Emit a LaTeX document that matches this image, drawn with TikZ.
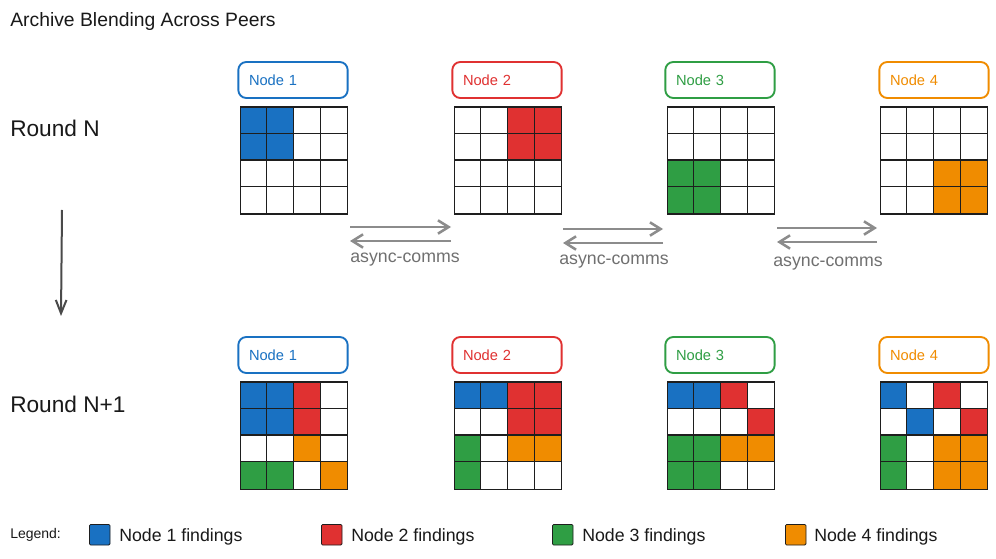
\documentclass[tikz,border=0pt]{standalone}
\usepackage{fontspec}
\setmainfont{Liberation Sans}
\usetikzlibrary{arrows.meta}
\definecolor{cb}{HTML}{1971C2}
\definecolor{cr}{HTML}{E03131}
\definecolor{cg}{HTML}{2F9E44}
\definecolor{co}{HTML}{F08C00}
\definecolor{cw}{HTML}{FFFFFF}
\definecolor{gridc}{HTML}{1E1E1E}
\definecolor{commc}{HTML}{8C8C8C}
\definecolor{downc}{HTML}{4A4A4A}
\newcommand\drawcells[4]{%
  \begin{scope}[shift={(#1,#2)}]
  \foreach \c [count=\i from 0] in {#3} {
    \pgfmathtruncatemacro\cl{mod(\i,4)}
    \pgfmathtruncatemacro\rw{int(\i/4)}
    \fill[\c] (\cl*26.75,\rw*26.75) rectangle ++(26.75,26.75);
  }
  \foreach \k in {1,2,3} {
    \draw[gridline] (\k*26.75,0) -- (\k*26.75,107);
    \draw[gridline] (0,\k*26.75) -- (107,\k*26.75);
  }
  \end{scope}
  \node[gridbox] (#4) at (#1,#2) {};}
\tikzset{
  gridline/.style={draw=gridc, line width=0.9pt},
  gridbox/.style={draw=gridc, line width=0.9pt, minimum width=80.25pt, minimum height=80.25pt, anchor=north west, inner sep=0pt},
  lbl/.style={draw=#1, text=#1, line width=1.4pt, rounded corners=6pt, minimum width=82pt, minimum height=27pt, text width=66pt, align=left, inner xsep=8pt, font=\fontsize{11}{13}\selectfont},
  comm/.style={draw=commc, line width=1.9pt, -{Straight Barb[length=8pt,width=10pt,line width=1.9pt]}},
  commlbl/.style={text=commc!80!black, font=\fontsize{13.3}{15}\selectfont, inner sep=0pt},
  roundlbl/.style={anchor=base west, inner sep=0pt, font=\fontsize{17}{20}\selectfont, text=black!90},
  legsq/.style={draw=gridc, fill=#1, line width=0.6pt, minimum width=15.5pt, minimum height=15.5pt, inner sep=0pt, rounded corners=1pt, anchor=north west},
  legtxt/.style={anchor=base west, inner sep=0pt, font=\fontsize{13.3}{15}\selectfont, text=black!90}
}
\begin{document}
\begin{tikzpicture}[x=0.75pt,y=-0.75pt]
\useasboundingbox (0,0) rectangle (996,559);
\fill[white] (0,0) rectangle (996,559);

\node[anchor=base west, inner sep=0pt, font=\fontsize{14.5}{17}\selectfont, text=black!90] (title) at (10,27) {Archive Blending Across Peers};
\node[roundlbl] (rN) at (10,137) {Round N};
\node[roundlbl] (rN1) at (10,413) {Round N+1};

% Round N labels
\node[lbl=cb] (l1) at (293,80) {Node 1};
\node[lbl=cr] (l2) at (507,80) {Node 2};
\node[lbl=cg] (l3) at (720,80) {Node 3};
\node[lbl=co] (l4) at (934,80) {Node 4};
% Round N grids
\drawcells{240}{106.5}{cb,cb,cw,cw, cb,cb,cw,cw, cw,cw,cw,cw, cw,cw,cw,cw}{g1}
\drawcells{454}{106.5}{cw,cw,cr,cr, cw,cw,cr,cr, cw,cw,cw,cw, cw,cw,cw,cw}{g2}
\drawcells{667}{106.5}{cw,cw,cw,cw, cw,cw,cw,cw, cg,cg,cw,cw, cg,cg,cw,cw}{g3}
\drawcells{880}{106.5}{cw,cw,cw,cw, cw,cw,cw,cw, cw,cw,co,co, cw,cw,co,co}{g4}

% Round N+1 labels
\node[lbl=cb] (m1) at (293,355) {Node 1};
\node[lbl=cr] (m2) at (507,355) {Node 2};
\node[lbl=cg] (m3) at (720,355) {Node 3};
\node[lbl=co] (m4) at (934,355) {Node 4};
% Round N+1 grids
\drawcells{240}{381.5}{cb,cb,cr,cw, cb,cb,cr,cw, cw,cw,co,cw, cg,cg,cw,co}{h1}
\drawcells{454}{381.5}{cb,cb,cr,cr, cw,cw,cr,cr, cg,cw,co,co, cg,cw,cw,cw}{h2}
\drawcells{667}{381.5}{cb,cb,cr,cw, cw,cw,cw,cr, cg,cg,co,co, cg,cg,cw,cw}{h3}
\drawcells{880}{381.5}{cb,cw,cr,cw, cw,cb,cw,cr, cg,cw,co,co, cg,cw,co,co}{h4}

% async comms
\coordinate (a1l) at (350,227); \coordinate (a1r) at (451,227);
\coordinate (b1l) at (350,241); \coordinate (b1r) at (451,241);
\draw[comm] (a1l) -- (a1r);
\draw[comm] (b1r) -- (b1l);
\node[commlbl] (c1) at (405,260) {async-comms};

\coordinate (a2l) at (563,229); \coordinate (a2r) at (663,229);
\coordinate (b2l) at (563,243); \coordinate (b2r) at (663,243);
\draw[comm] (a2l) -- (a2r);
\draw[comm] (b2r) -- (b2l);
\node[commlbl] (c2) at (614,262) {async-comms};

\coordinate (a3l) at (777,228); \coordinate (a3r) at (877,228);
\coordinate (b3l) at (777,242); \coordinate (b3r) at (877,242);
\draw[comm] (a3l) -- (a3r);
\draw[comm] (b3r) -- (b3l);
\node[commlbl] (c3) at (828,264) {async-comms};

% round arrow
\coordinate (d0) at (62,210);
\coordinate (d1) at (61,316);
\draw[draw=downc, line width=1.5pt, -{Straight Barb[length=10pt,width=8pt,line width=1.5pt]}] (d0) -- (d1);

% legend
\node[anchor=base west, inner sep=0pt, font=\fontsize{10.5}{12}\selectfont, text=black!90] (leg) at (10,538) {Legend:};
\node[legsq=cb] (s1) at (89,524) {};
\node[legtxt] (t1) at (119,541) {Node 1 findings};
\node[legsq=cr] (s2) at (321,524) {};
\node[legtxt] (t2) at (351,541) {Node 2 findings};
\node[legsq=cg] (s3) at (552,524) {};
\node[legtxt] (t3) at (582,541) {Node 3 findings};
\node[legsq=co] (s4) at (785,524) {};
\node[legtxt] (t4) at (814,541) {Node 4 findings};
\end{tikzpicture}
\end{document}
